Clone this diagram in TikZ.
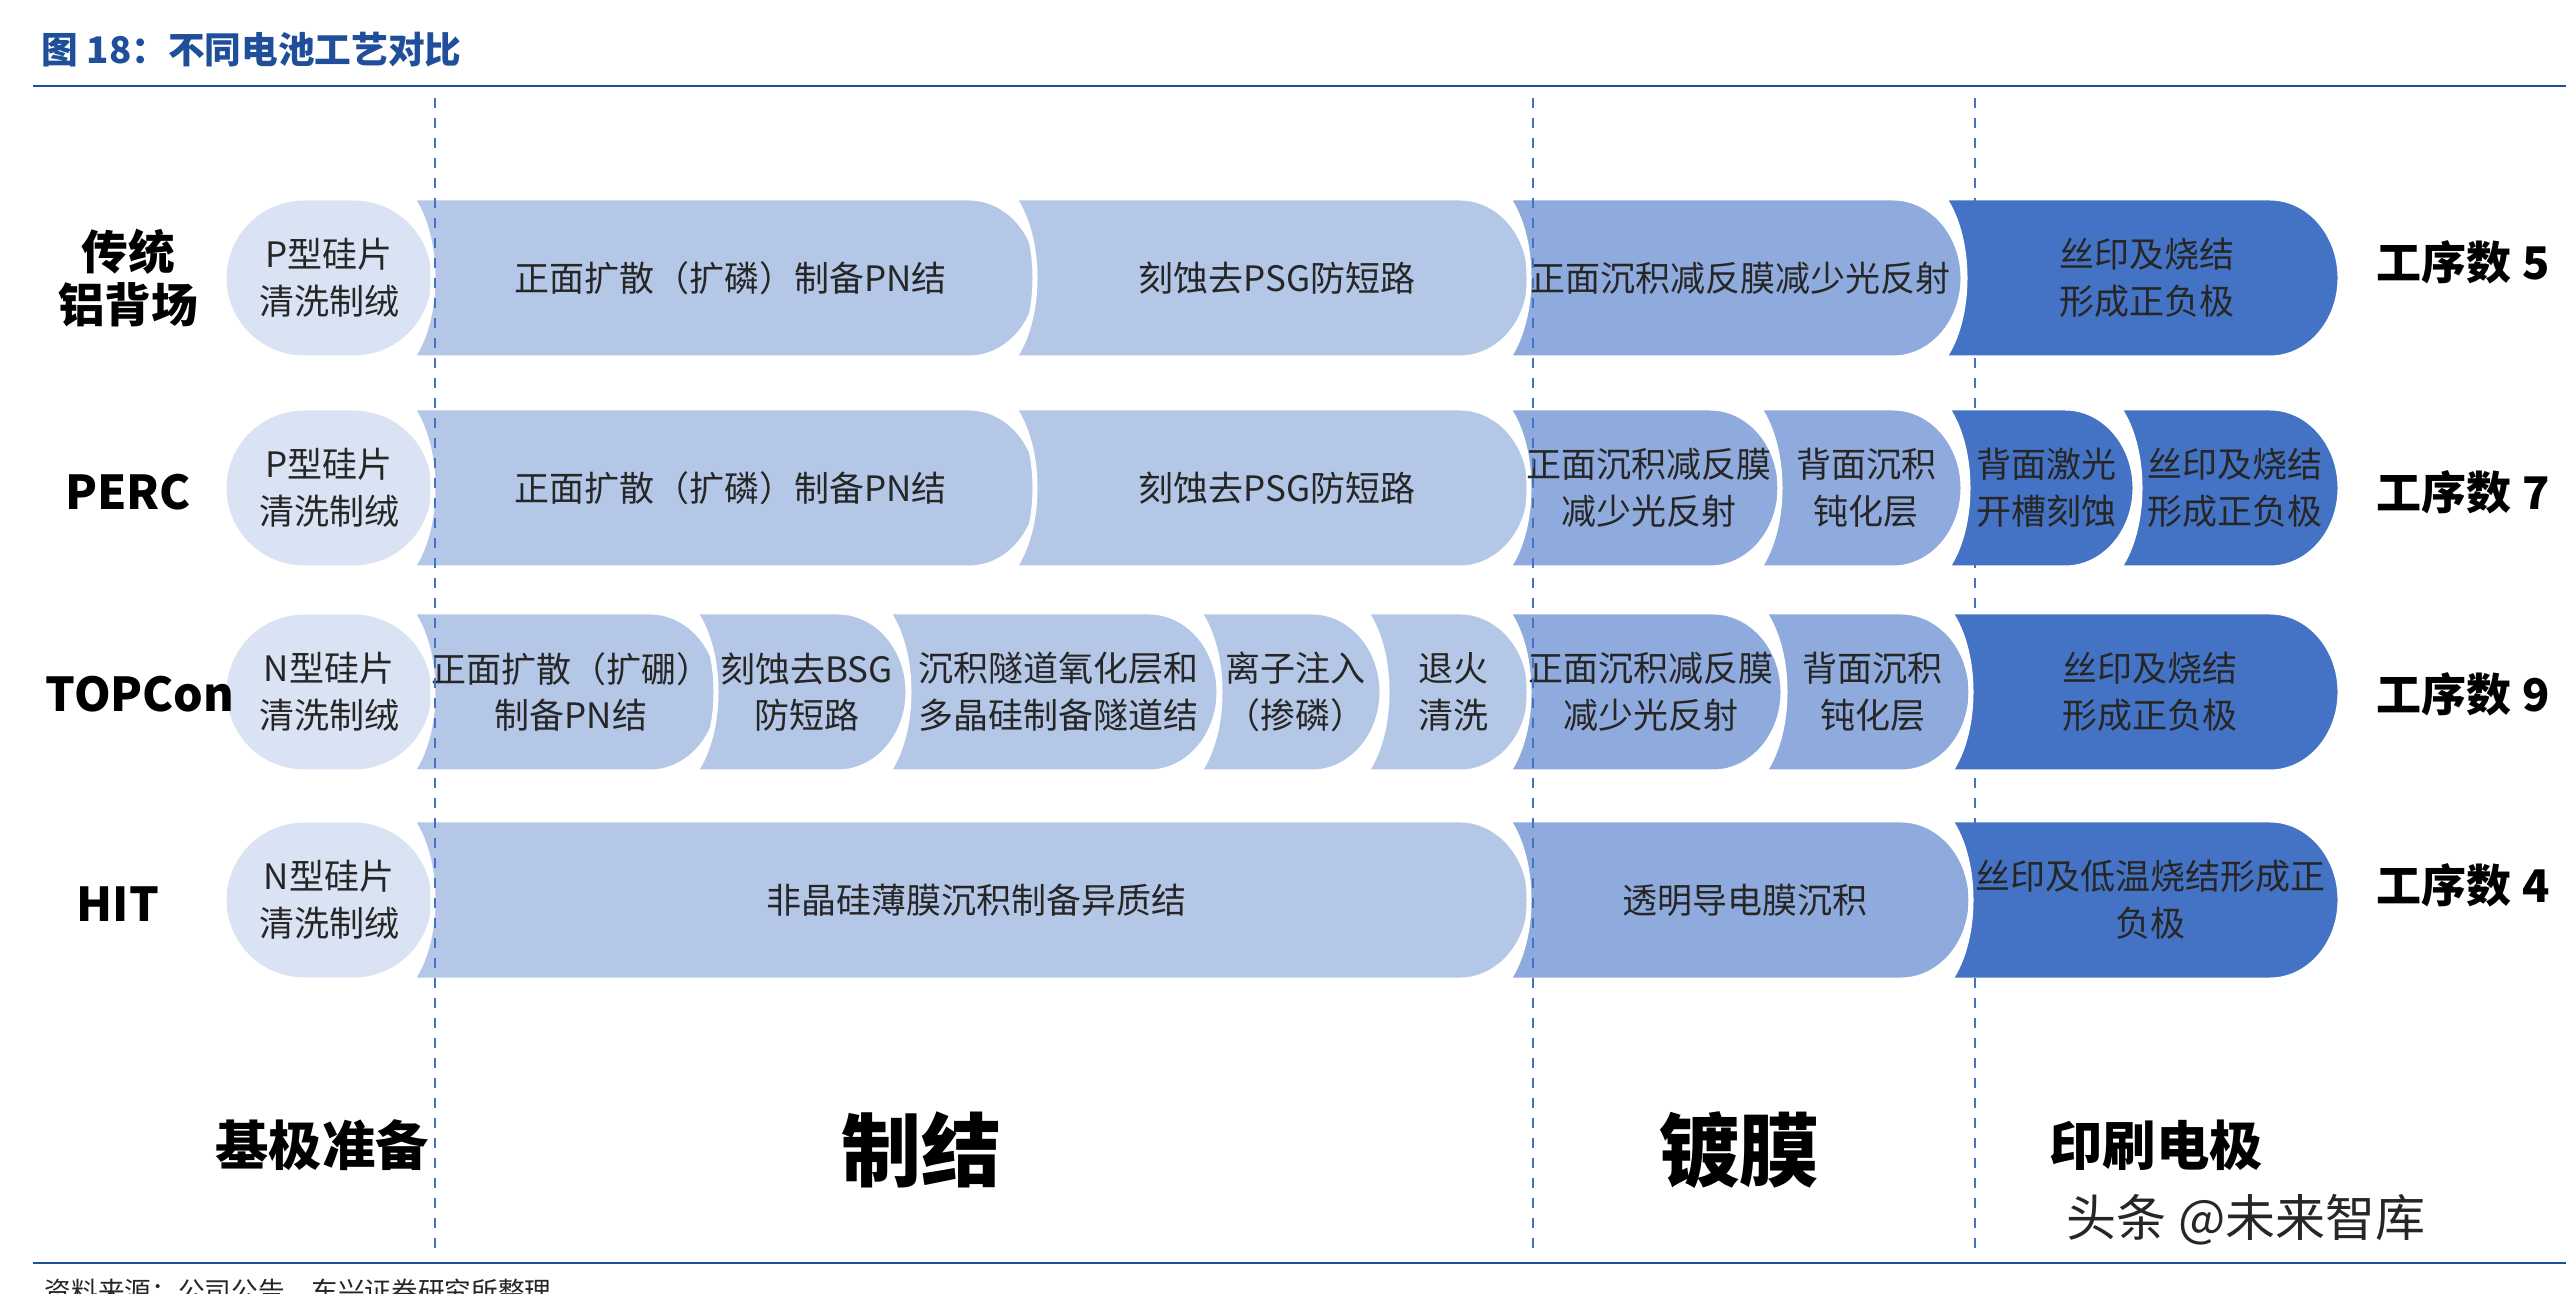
\documentclass[tikz,border=0pt]{standalone}
\usepackage{fontspec}
\setmainfont{Noto Sans CJK SC}
\usetikzlibrary{positioning}
\definecolor{baseC}{HTML}{DAE3F3}
\definecolor{junC}{HTML}{B4C7E7}
\definecolor{filmC}{HTML}{8FAADC}
\definecolor{elecC}{HTML}{4472C4}
\definecolor{titleC}{HTML}{1F4E9A}
\definecolor{txtC}{HTML}{262626}
% one process step: x0, x1, y centre, fill, name, text
\newcommand\seg[6]{%
  \filldraw[fill=#4, step edge] (#1,#3-80) -- (#2-70,#3-80)
    arc[start angle=-90, end angle=90, x radius=70, y radius=80]
    -- (#1,#3+80) .. controls (#1+28,#3+40) and (#1+28,#3-40) .. (#1,#3-80) -- cycle;
  \node[step text] (#5) at ({(#1+#2)/2+5},#3) {#6};}
% substrate step: x0, x1, y centre, name, text
\newcommand\base[5]{%
  \filldraw[fill=baseC, step edge] (#1+80,#3-80) -- (#2-80,#3-80)
    arc[start angle=-90, end angle=90, x radius=80, y radius=80]
    -- (#1+80,#3+80) arc[start angle=90, end angle=270, x radius=80, y radius=80] -- cycle;
  \node[step text] (#4) at ({(#1+#2)/2},#3) {#5};}
\tikzset{
  step edge/.style={draw=white, line width=1.5pt},
  step text/.style={text=txtC, font=\fontsize{10.5}{14}\selectfont, align=center, inner sep=1pt},
  row label/.style={font=\bfseries\fontsize{14}{16}\selectfont, align=center, text=black},
  stage label/.style={font=\bfseries\fontsize{16}{20}\selectfont, text=black},
  stage sep/.style={draw=elecC, dashed, line width=0.6pt}
}
\begin{document}
\begin{tikzpicture}[x=0.3pt,y=-0.3pt]
\useasboundingbox (0,0) rectangle (2566,1294);

% title and rules
\node[anchor=west, text=titleC, font=\bfseries\fontsize{11}{14}\selectfont] (title) at (30,50) {图 18：不同电池工艺对比};
\coordinate (topL) at (33,86);
\coordinate (topR) at (2566,86);
\draw[titleC, line width=0.8pt] (topL) -- (topR);
\coordinate (botL) at (33,1263);
\coordinate (botR) at (2566,1263);
\draw[titleC, line width=0.8pt] (botL) -- (botR);
\node[anchor=west, text=txtC, font=\itshape\fontsize{8}{10}\selectfont] (source) at (33,1292) {资料来源：公司公告，东兴证券研究所整理};

% stage separators
\foreach \x/\n in {435/a,1533/b,1975/c}{
  \coordinate (sepT\n) at (\x,98);
  \coordinate (sepB\n) at (\x,1252);
}

% row 1
\base{224}{434}{278}{b1}{P型硅片\\清洗制绒}
\seg{412}{1039}{278}{junC}{r1a}{正面扩散（扩磷）制备PN结}
\seg{1014}{1530}{278}{junC}{r1b}{刻蚀去PSG防短路}
\seg{1508}{1963}{278}{filmC}{r1c}{正面沉积减反膜减少光反射}
\seg{1944}{2340}{278}{elecC}{r1d}{丝印及烧结\\形成正负极}

% row 2
\base{224}{434}{488}{b2}{P型硅片\\清洗制绒}
\seg{412}{1039}{488}{junC}{r2a}{正面扩散（扩磷）制备PN结}
\seg{1014}{1530}{488}{junC}{r2b}{刻蚀去PSG防短路}
\seg{1508}{1780}{488}{filmC}{r2c}{正面沉积减反膜\\减少光反射}
\seg{1759}{1963}{488}{filmC}{r2d}{背面沉积\\钝化层}
\seg{1947}{2135}{488}{elecC}{r2e}{背面激光\\开槽刻蚀}
\seg{2119}{2340}{488}{elecC}{r2f}{丝印及烧结\\形成正负极}

% row 3
\base{224}{434}{692}{b3}{N型硅片\\清洗制绒}
\seg{412}{720}{692}{junC}{r3a}{正面扩散（扩硼）\\制备PN结}
\seg{695}{908}{692}{junC}{r3b}{刻蚀去BSG\\防短路}
\seg{888}{1219}{692}{junC}{r3c}{沉积隧道氧化层和\\多晶硅制备隧道结}
\seg{1199}{1382}{692}{junC}{r3d}{离子注入\\（掺磷）}
\seg{1366}{1530}{692}{junC}{r3e}{退火\\清洗}
\seg{1508}{1783}{692}{filmC}{r3f}{正面沉积减反膜\\减少光反射}
\seg{1764}{1971}{692}{filmC}{r3g}{背面沉积\\钝化层}
\seg{1950}{2340}{692}{elecC}{r3h}{丝印及烧结\\形成正负极}

% row 4
\base{224}{434}{900}{b4}{N型硅片\\清洗制绒}
\seg{412}{1530}{900}{junC}{r4a}{非晶硅薄膜沉积制备异质结}
\seg{1508}{1971}{900}{filmC}{r4b}{透明导电膜沉积}
\seg{1950}{2340}{900}{elecC}{r4c}{丝印及低温烧结形成正\\负极}

\foreach \n in {a,b,c}{\draw[stage sep] (sepT\n) -- (sepB\n);}

% row and count labels
\node[row label] (lab1) at (128,278) {传统\\铝背场};
\node[row label] (lab2) at (128,492) {PERC};
\node[row label] (lab3) at (140,694) {TOPCon};
\node[row label] (lab4) at (118,904) {HIT};
\foreach \y/\k/\n in {262/5/1,492/7/2,694/9/3,885/4/4}
  \node[row label, anchor=west, font=\bfseries\fontsize{13.5}{16}\selectfont] (cnt\n) at (2365,\y) {工序数 \k};

% stage labels
\node[stage label] (st1) at (322,1145) {基极准备};
\node[stage label, font=\bfseries\fontsize{24}{30}\selectfont] (st2) at (921,1150) {制结};
\node[stage label, font=\bfseries\fontsize{24}{30}\selectfont] (st3) at (1739,1150) {镀膜};
\node[stage label] (st4) at (2156,1145) {印刷电极};
\node[anchor=west, text=txtC, font=\fontsize{15}{18}\selectfont] (mark) at (2055,1220) {头条 @未来智库};
\end{tikzpicture}
\end{document}
